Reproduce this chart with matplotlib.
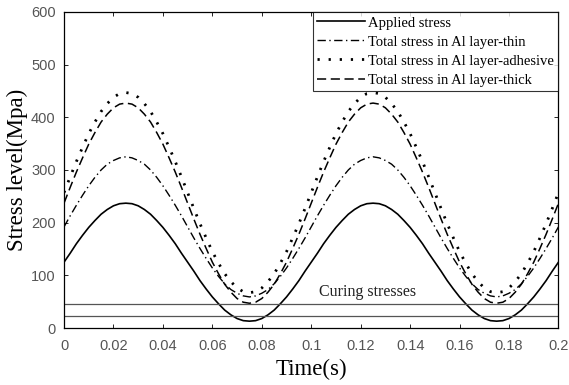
import matplotlib
matplotlib.use("Agg")
import matplotlib.pyplot as plt

time = [round(i * 0.0025, 4) for i in range(81)]
applied_period = [125, 142, 160, 176, 191, 204, 216, 225, 232, 236, 237, 236, 232, 225, 216, 204, 191, 176, 160, 142,
                  125, 108, 90, 74, 59, 46, 34, 25, 18, 14, 13, 14, 18, 25, 34, 46, 59, 74, 90, 108]
thin_period = [192, 213, 233, 252, 270, 286, 300, 311, 318, 323, 325, 323, 318, 311, 300, 286, 270, 252, 233, 213,
               192, 171, 151, 132, 114, 98, 84, 73, 66, 61, 59, 61, 66, 73, 84, 98, 114, 132, 151, 171]
adhesive_period = [257, 287, 316, 343, 369, 391, 411, 426, 438, 445, 447, 445, 438, 426, 411, 391, 369, 343, 316, 287,
                   257, 227, 198, 171, 145, 123, 103, 88, 76, 69, 67, 69, 76, 88, 103, 123, 145, 171, 198, 227]
thick_period = [237, 267, 296, 323, 349, 371, 391, 406, 418, 425, 427, 425, 418, 406, 391, 371, 349, 323, 296, 267,
                237, 207, 178, 151, 125, 103, 83, 68, 56, 49, 47, 49, 56, 68, 83, 103, 125, 151, 178, 207]
applied = applied_period * 2 + applied_period[:1]
thin = thin_period * 2 + thin_period[:1]
adhesive = adhesive_period * 2 + adhesive_period[:1]
thick = thick_period * 2 + thick_period[:1]
curing_levels = [45, 23]
xticks = [0, 0.02, 0.04, 0.06, 0.08, 0.1, 0.12, 0.14, 0.16, 0.18, 0.2]
xticklabels = ["0", "0.02", "0.04", "0.06", "0.08", "0.1", "0.12", "0.14", "0.16", "0.18", "0.2"]
yticks = [0, 100, 200, 300, 400, 500, 600]

serif = "Liberation Serif"
sans = "Liberation Sans"

fig = plt.figure(figsize=(5.69, 3.85), dpi=100)
ax = fig.add_axes([0.1125, 0.148, 0.869, 0.821])

ax.plot(time, applied, color="black", lw=1.2, ls="-", label="Applied stress")
ax.plot(time, thin, color="black", lw=1.0, ls=(0, (6, 2.5, 1, 2.5)), label="Total stress in Al layer-thin")
ax.plot(time, adhesive, color="black", lw=2.0, ls=(0, (0.8, 3.2)), label="Total stress in Al layer-adhesive")
ax.plot(time, thick, color="black", lw=1.1, ls=(0, (6, 3)), label="Total stress in Al layer-thick")
for lvl in curing_levels:
    ax.axhline(lvl, color="#555555", lw=0.9)
ax.text(0.1033, 60, "Curing stresses", fontsize=11.5, family=serif, color="#222222")

ax.set_xlim(0, 0.2)
ax.set_ylim(0, 600)
ax.set_xticks(xticks)
ax.set_xticklabels(xticklabels)
ax.set_yticks(yticks)
ax.tick_params(direction="in", top=True, right=True, length=3, width=0.6,
               labelsize=10.5, labelcolor="#555555")
ax.tick_params(axis="x", pad=8)
ax.tick_params(axis="y", pad=6)
for lab in ax.get_xticklabels() + ax.get_yticklabels():
    lab.set_family(sans)
for s in ax.spines.values():
    s.set_linewidth(0.9)
ax.set_xlabel("Time(s)", family=serif, fontsize=16.5, labelpad=4)
ax.set_ylabel("Stress level(Mpa)", family=serif, fontsize=16.5, labelpad=2)

leg = ax.legend(loc="upper right", prop={"family": serif, "size": 10.5},
                frameon=True, fancybox=False, edgecolor="black",
                borderaxespad=0.0, handlelength=3.3, handletextpad=0.2,
                labelspacing=0.4, borderpad=0.3)
leg.get_frame().set_linewidth(0.8)

fig.savefig("out.png", dpi=100)
